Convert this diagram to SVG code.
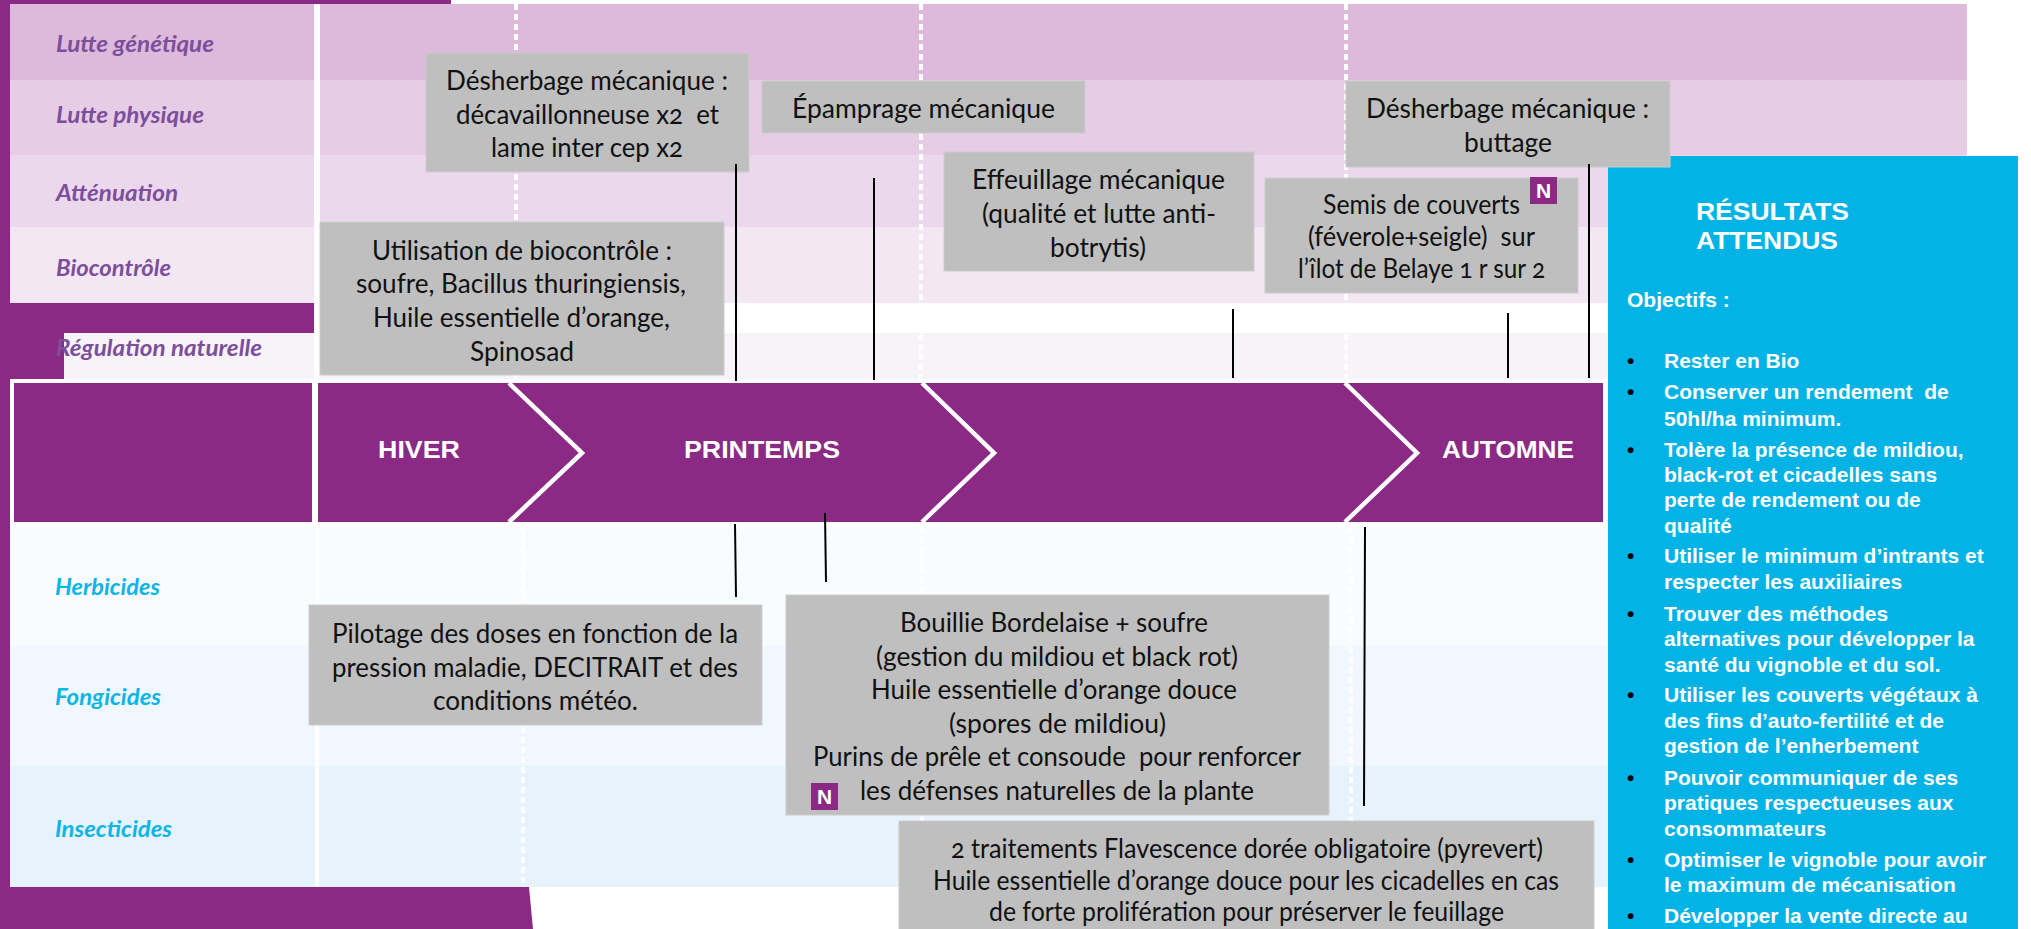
<svg xmlns="http://www.w3.org/2000/svg" width="2031" height="929" viewBox="0 0 2031 929">
<style>
text{white-space:pre}
.p{fill:#8B2A85}
.box{fill:#BFBFBF;stroke:#CCCCCC;stroke-width:1}
.t{font-family:"Lato","Open Sans",sans-serif;font-size:26px;fill:#111;font-variant-numeric:oldstyle-nums}
.li{font-family:"Lato","Open Sans",sans-serif;font-size:22px;font-style:italic;font-weight:700;fill:#7C4F9C}
.lb{font-family:"Lato","Open Sans",sans-serif;font-size:22px;font-style:italic;font-weight:700;fill:#0DB4E6}
.h{font-family:"Liberation Sans",Arial,sans-serif;font-size:23px;font-weight:700;fill:#fff}
.b{font-family:"Liberation Sans",Arial,sans-serif;font-size:21px;font-weight:700;fill:#fff}
.dot{font-family:"Liberation Sans",Arial,sans-serif;font-size:21px;font-weight:700;fill:#000}
.n{font-family:"Liberation Sans",Arial,sans-serif;font-size:21px;font-weight:700;fill:#fff;text-anchor:middle}
.dash{stroke:#fff;stroke-width:4;stroke-dasharray:6 4;fill:none}
.chev{stroke:#fff;stroke-width:4.5;fill:none}
.c{stroke:#000;stroke-width:2;fill:none}
</style>
<rect width="2031" height="929" fill="#fff"/>
<g id="background">
<path class="p" d="M0 0H451V4H10V303H320V333H64V379H10V887H529L533 929H0Z"/>
<rect x="10" y="4" width="1957" height="76" fill="#DDB9DB"/>
<rect x="10" y="80" width="1957" height="75" fill="#E6CDE5"/>
<rect x="10" y="155" width="1957" height="72" fill="#ECD8EC"/>
<rect x="10" y="227" width="1957" height="76" fill="#F3E7F4"/>
<rect x="318" y="303" width="1649" height="30" fill="#fff"/>
<rect x="316" y="303" width="4" height="30" fill="#8B2A85"/>
<rect x="64" y="333" width="1903" height="46" fill="#F8F2F9"/>
<rect x="10" y="527" width="1598" height="119" fill="#F9FCFF"/>
<rect x="10" y="646" width="1598" height="120" fill="#F0F7FE"/>
<rect x="10" y="766" width="1598" height="121" fill="#E6F3FC"/>
<rect x="314" y="4" width="6" height="375" fill="#fff"/>
<rect x="315" y="527" width="4" height="360" fill="#fff"/>
<path class="dash" d="M516 4V383M921 4V383M1346 4V383M523 527V887M922 527V887M1351 527V887"/>
</g>
<g id="header">
<rect x="10" y="379" width="1598" height="148" fill="#fff"/>
<rect class="p" x="14" y="383" width="1589" height="139"/>
<rect x="312" y="383" width="6" height="139" fill="#fff"/>
<path class="chev" d="M509 383L582 453L509 522M922 383L994 453L922 522M1345 383L1417 453L1345 522"/>
<text class="h" x="378" y="458" textLength="82" lengthAdjust="spacingAndGlyphs">HIVER</text>
<text class="h" x="684" y="458" textLength="156" lengthAdjust="spacingAndGlyphs">PRINTEMPS</text>
<text class="h" x="1442" y="458" textLength="132" lengthAdjust="spacingAndGlyphs">AUTOMNE</text>
</g>
<g id="row-labels">
<text class="li" x="56" y="52" textLength="158" lengthAdjust="spacingAndGlyphs">Lutte génétique</text>
<text class="li" x="56" y="123" textLength="148" lengthAdjust="spacingAndGlyphs">Lutte physique</text>
<text class="li" x="56" y="201" textLength="122" lengthAdjust="spacingAndGlyphs">Atténuation</text>
<text class="li" x="56" y="276" textLength="115" lengthAdjust="spacingAndGlyphs">Biocontrôle</text>
<text class="li" x="56" y="356" textLength="206" lengthAdjust="spacingAndGlyphs">Régulation naturelle</text>
<text class="lb" x="55" y="595" textLength="105" lengthAdjust="spacingAndGlyphs">Herbicides</text>
<text class="lb" x="55" y="705" textLength="106" lengthAdjust="spacingAndGlyphs">Fongicides</text>
<text class="lb" x="55" y="837" textLength="117" lengthAdjust="spacingAndGlyphs">Insecticides</text>
</g>
<g id="resultats">
<rect x="1608" y="156" width="410" height="773" fill="#04B3E6"/>
<text class="h" x="1696" y="220" textLength="153" lengthAdjust="spacingAndGlyphs">RÉSULTATS</text>
<text class="h" x="1696" y="249" textLength="142" lengthAdjust="spacingAndGlyphs">ATTENDUS</text>
<text class="b" x="1627" y="307">Objectifs :</text>
<text class="dot" x="1627" y="368">•</text><text class="b" x="1664" y="368">Rester en Bio</text>
<text class="dot" x="1627" y="399">•</text><text class="b" x="1664" y="399">Conserver un rendement  de</text>
<text class="b" x="1664" y="426">50hl/ha minimum.</text>
<text class="dot" x="1627" y="457">•</text><text class="b" x="1664" y="457">Tolère la présence de mildiou,</text>
<text class="b" x="1664" y="482">black-rot et cicadelles sans</text>
<text class="b" x="1664" y="507">perte de rendement ou de</text>
<text class="b" x="1664" y="533">qualité</text>
<text class="dot" x="1627" y="563">•</text><text class="b" x="1664" y="563">Utiliser le minimum d’intrants et</text>
<text class="b" x="1664" y="589">respecter les auxiliaires</text>
<text class="dot" x="1627" y="621">•</text><text class="b" x="1664" y="621">Trouver des méthodes</text>
<text class="b" x="1664" y="646">alternatives pour développer la</text>
<text class="b" x="1664" y="672">santé du vignoble et du sol.</text>
<text class="dot" x="1627" y="702">•</text><text class="b" x="1664" y="702">Utiliser les couverts végétaux à</text>
<text class="b" x="1664" y="728">des fins d’auto-fertilité et de</text>
<text class="b" x="1664" y="753">gestion de l’enherbement</text>
<text class="dot" x="1627" y="785">•</text><text class="b" x="1664" y="785">Pouvoir communiquer de ses</text>
<text class="b" x="1664" y="810">pratiques respectueuses aux</text>
<text class="b" x="1664" y="836">consommateurs</text>
<text class="dot" x="1627" y="867">•</text><text class="b" x="1664" y="867">Optimiser le vignoble pour avoir</text>
<text class="b" x="1664" y="892">le maximum de mécanisation</text>
<text class="dot" x="1627" y="923">•</text><text class="b" x="1664" y="923">Développer la vente directe au</text>
</g>
<g id="node-desherbage1">
<rect class="box" x="426" y="53" width="323" height="119"/>
<text class="t" x="446" y="90" textLength="282" lengthAdjust="spacingAndGlyphs">Désherbage mécanique :</text>
<text class="t" x="456" y="124" textLength="263" lengthAdjust="spacingAndGlyphs">décavaillonneuse x2  et</text>
<text class="t" x="491" y="157" textLength="192" lengthAdjust="spacingAndGlyphs">lame inter cep x2</text>
</g>
<g id="node-epamprage">
<rect class="box" x="762" y="81" width="323" height="52"/>
<text class="t" x="792" y="118" textLength="263" lengthAdjust="spacingAndGlyphs">Épamprage mécanique</text>
</g>
<g id="node-effeuillage">
<rect class="box" x="944" y="152" width="310" height="119"/>
<text class="t" x="972" y="189" textLength="253" lengthAdjust="spacingAndGlyphs">Effeuillage mécanique</text>
<text class="t" x="982" y="223" textLength="234" lengthAdjust="spacingAndGlyphs">(qualité et lutte anti-</text>
<text class="t" x="1050" y="257" textLength="96" lengthAdjust="spacingAndGlyphs">botrytis)</text>
</g>
<g id="node-semis">
<rect class="box" x="1265" y="178" width="313" height="115"/>
<text class="t" x="1323" y="214" textLength="197" lengthAdjust="spacingAndGlyphs">Semis de couverts</text>
<text class="t" x="1308" y="246" textLength="227" lengthAdjust="spacingAndGlyphs">(féverole+seigle)  sur</text>
<text class="t" x="1298" y="278" textLength="247" lengthAdjust="spacingAndGlyphs">l’îlot de Belaye 1 r sur 2</text>
<rect class="p" x="1530" y="177" width="27" height="27"/>
<text class="n" x="1543.5" y="198">N</text>
</g>
<g id="node-desherbage2">
<rect class="box" x="1346" y="81" width="324" height="86"/>
<text class="t" x="1366" y="118" textLength="283" lengthAdjust="spacingAndGlyphs">Désherbage mécanique :</text>
<text class="t" x="1464" y="152" textLength="88" lengthAdjust="spacingAndGlyphs">buttage</text>
</g>
<g id="node-biocontrole">
<rect class="box" x="320" y="222" width="404" height="153"/>
<text class="t" x="372" y="260" textLength="300" lengthAdjust="spacingAndGlyphs">Utilisation de biocontrôle :</text>
<text class="t" x="356" y="293" textLength="330" lengthAdjust="spacingAndGlyphs">soufre, Bacillus thuringiensis,</text>
<text class="t" x="373" y="327" textLength="297" lengthAdjust="spacingAndGlyphs">Huile essentielle d’orange,</text>
<text class="t" x="470" y="361" textLength="104" lengthAdjust="spacingAndGlyphs">Spinosad</text>
</g>
<g id="node-pilotage">
<rect class="box" x="309" y="605" width="453" height="120"/>
<text class="t" x="332" y="643" textLength="406" lengthAdjust="spacingAndGlyphs">Pilotage des doses en fonction de la</text>
<text class="t" x="332" y="677" textLength="406" lengthAdjust="spacingAndGlyphs">pression maladie, DECITRAIT et des</text>
<text class="t" x="433" y="710" textLength="205" lengthAdjust="spacingAndGlyphs">conditions météo.</text>
</g>
<g id="node-bouillie">
<rect class="box" x="786" y="595" width="543" height="220"/>
<text class="t" x="900" y="632" textLength="308" lengthAdjust="spacingAndGlyphs">Bouillie Bordelaise + soufre</text>
<text class="t" x="876" y="666" textLength="362" lengthAdjust="spacingAndGlyphs">(gestion du mildiou et black rot)</text>
<text class="t" x="871" y="699" textLength="366" lengthAdjust="spacingAndGlyphs">Huile essentielle d’orange douce</text>
<text class="t" x="949" y="733" textLength="217" lengthAdjust="spacingAndGlyphs">(spores de mildiou)</text>
<text class="t" x="813" y="766" textLength="488" lengthAdjust="spacingAndGlyphs">Purins de prêle et consoude  pour renforcer</text>
<text class="t" x="860" y="800" textLength="394" lengthAdjust="spacingAndGlyphs">les défenses naturelles de la plante</text>
<rect class="p" x="811" y="783" width="27" height="27"/>
<text class="n" x="824.5" y="804">N</text>
</g>
<g id="node-traitements">
<rect class="box" x="899" y="821" width="695" height="109"/>
<text class="t" x="951" y="858" textLength="592" lengthAdjust="spacingAndGlyphs">2 traitements Flavescence dorée obligatoire (pyrevert)</text>
<text class="t" x="933" y="890" textLength="626" lengthAdjust="spacingAndGlyphs">Huile essentielle d’orange douce pour les cicadelles en cas</text>
<text class="t" x="989" y="921" textLength="515" lengthAdjust="spacingAndGlyphs">de forte prolifération pour préserver le feuillage</text>
</g>
<g id="connectors">
<path class="c" d="M736 164V381M874 178V380M1233 309V378M1508 313V378M1589 164V378M735 524L736 597M825 513L826 582M1365 527L1364 806"/>
</g>
</svg>
